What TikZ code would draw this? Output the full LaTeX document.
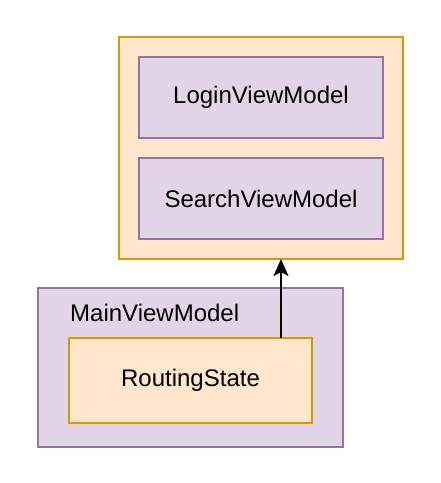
\documentclass[tikz,border=0pt]{standalone}
\usepackage{fontspec}
\setmainfont{Liberation Sans}
\usetikzlibrary{arrows.meta}
\definecolor{orfill}{HTML}{FFE6CC}
\definecolor{ordraw}{HTML}{D79B00}
\definecolor{pufill}{HTML}{E1D5E7}
\definecolor{pudraw}{HTML}{9673A6}
\tikzset{
  orbox/.style={draw=ordraw,fill=orfill,line width=1.5bp},
  pubox/.style={draw=pudraw,fill=pufill,line width=1.5bp},
  lbl/.style={font=\fontsize{24bp}{28bp}\selectfont,text=black,inner sep=0pt},
}
\begin{document}
\begin{tikzpicture}[x=1bp,y=-1bp]
\useasboundingbox (0,0) rectangle (441,483);
\draw[orbox] (119,37) rectangle (403,259);
\draw[pubox] (139,57) rectangle (383,138) node[lbl] (login) at (261,97.5) {LoginViewModel};
\draw[pubox] (139,158) rectangle (383,239) node[lbl] (search) at (261,198.5) {SearchViewModel};
\coordinate (outerbot) at (281,259);
\draw[pubox] (38,288) rectangle (343,447);
\node[lbl,anchor=base west] (main) at (70,321) {MainViewModel};
\draw[orbox] (69,338) rectangle (312,423);
\node[lbl] (routing) at (190.5,380.5) {RoutingState};
\coordinate (rtop) at (281,338);
\draw[line width=2bp,-{Stealth[length=17bp,width=15bp,inset=4bp]}] (rtop) -- (outerbot);
\end{tikzpicture}
\end{document}
